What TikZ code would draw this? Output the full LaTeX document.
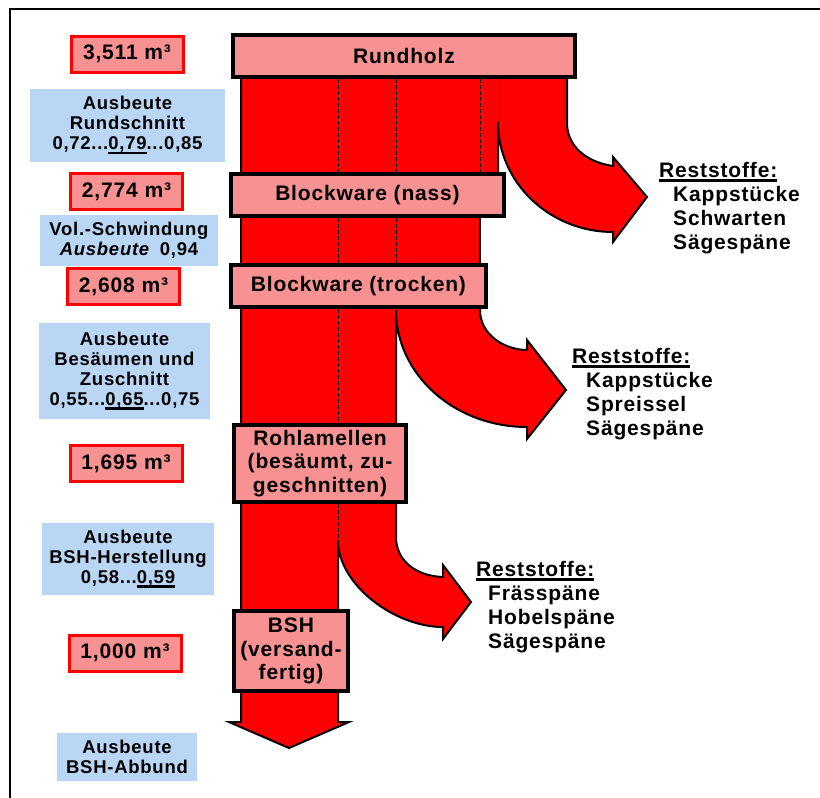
\documentclass[tikz,border=0pt]{standalone}
\usepackage{fontspec}
\setmainfont{Liberation Sans}[LetterSpace=4]
\usepackage{tikz}

\definecolor{rosa}{RGB}{248,146,146}
\definecolor{hellblau}{RGB}{186,214,245}

\newsavebox{\ustrbox}
\newcommand{\ustr}[1]{\sbox{\ustrbox}{#1}\rlap{\rule[-4.5pt]{\wd\ustrbox}{2.5pt}}\usebox{\ustrbox}}

\begin{document}
\begin{tikzpicture}[x=1pt, y=-1pt,
    stufe/.style={draw=black, line width=4pt, fill=rosa, inner sep=0pt, align=center, font=\fontsize{21}{23.5}\selectfont\bfseries},
    menge/.style={draw=red, line width=3pt, fill=rosa, inner sep=0pt, minimum width=112pt, minimum height=36pt, font=\fontsize{21}{24}\selectfont\bfseries},
    ausbeute/.style={fill=hellblau, inner sep=0pt, align=center, font=\fontsize{18.5}{20}\selectfont\bfseries},
    rest/.style={anchor=north west, inner sep=0pt, align=left, font=\fontsize{21}{24}\selectfont\bfseries},
    strom/.style={fill=red, draw=black, line width=2pt},
    trenn/.style={line width=1pt, dash pattern=on 4pt off 2pt}]
    \useasboundingbox (0,0) rectangle (820,798);
    \draw[line width=2pt] (820,9) -- (10,9) -- (10,798);

    % Rundholz -> Blockware (nass)
    \draw[strom] (241,77) -- (241,174) -- (498,174) -- (498,122)
        .. controls (498,183) and (550,232) .. (613,232) -- (613,242) -- (647,197)
        -- (613,157) -- (613,166) .. controls (585,162) and (567,145) .. (567,123)
        -- (567,77) -- cycle;
    \draw[trenn] (338,79) -- (338,172) (396,79) -- (396,172) (480,79) -- (480,172) (499,79) -- (499,122);

    % Blockware (nass) -> Blockware (trocken)
    \draw[strom] (241,216) rectangle (480,265);
    \draw[trenn] (338,218) -- (338,263) (396,218) -- (396,263);

    % Blockware (trocken) -> Rohlamellen
    \draw[strom] (241,307) -- (241,425) -- (396,425) -- (396,310)
        .. controls (396,375) and (455,427) .. (527,427) -- (527,439) -- (566,390)
        -- (527,340) -- (527,350) .. controls (505,350) and (480,335) .. (480,310)
        -- (480,307) -- cycle;
    \draw[trenn] (338,309) -- (338,423);

    % Rohlamellen -> BSH
    \draw[strom] (241,502) -- (241,611) -- (338,611) -- (338,540)
        .. controls (338,585) and (395,627) .. (443,627) -- (443,639) -- (471,602)
        -- (443,565) -- (443,577) .. controls (415,576) and (396,560) .. (396,537)
        -- (396,502) -- cycle;
    \draw[trenn] (338,504) -- (338,540);

    % BSH -> Abbund
    \draw[strom] (241,691) -- (241,722) -- (229,722) -- (289,748) -- (349,722) -- (338,722) -- (338,691) -- cycle;

    \node[stufe, minimum width=342pt, minimum height=42pt] (rund) at (404,56) {Rundholz};
    \node[stufe, minimum width=273pt, minimum height=42pt] (nass) at (367.5,195) {Blockware (nass)};
    \node[stufe, minimum width=255pt, minimum height=42pt] (trocken) at (358.5,286) {Blockware (trocken)};
    \node[stufe, minimum width=172pt, minimum height=77pt] (lamellen) at (320,463.5) {Rohlamellen\\(besäumt, zu-\\geschnitten)};
    \node[stufe, minimum width=114pt, minimum height=80pt] (bsh) at (291,651) {BSH\\(versand-\\fertig)};

    \node[menge] (vol1) at (127,54) {3,511 m³};
    \node[menge] (vol2) at (126.5,191.5) {2,774 m³};
    \node[menge] (vol3) at (123.5,286.5) {2,608 m³};
    \node[menge] (vol4) at (126,463.5) {1,695 m³};
    \node[menge] (vol5) at (125,653) {1,000 m³};

    \node[ausbeute, minimum width=195pt, minimum height=73pt] (aus1) at (127.5,125.5) {Ausbeute\\Rundschnitt\\0,72...\ustr{0,79}...0,85};
    \node[ausbeute, minimum width=178pt, minimum height=51pt] (aus2) at (129,240.5) {Vol.-Schwindung\\\textit{Ausbeute}\hspace{10pt}0,94};
    \node[ausbeute, minimum width=171pt, minimum height=96pt] (aus3) at (124.5,371) {Ausbeute\\Besäumen und\\Zuschnitt\\0,55...\ustr{0,65}...0,75};
    \node[ausbeute, minimum width=172pt, minimum height=72pt] (aus4) at (128,559) {Ausbeute\\BSH-Herstellung\\0,58...\ustr{0,59}};
    \node[ausbeute, minimum width=140pt, minimum height=48pt] (aus5) at (127,757) {Ausbeute\\BSH-Abbund};

    \node[rest] (rest1) at (659,162) {\ustr{Reststoffe:}\\\hspace*{14pt}Kappstücke\\\hspace*{14pt}Schwarten\\\hspace*{14pt}Sägespäne};
    \node[rest] (rest2) at (572,348) {\ustr{Reststoffe:}\\\hspace*{14pt}Kappstücke\\\hspace*{14pt}Spreissel\\\hspace*{14pt}Sägespäne};
    \node[rest] (rest3) at (476,561) {\ustr{Reststoffe:}\\\hspace*{12pt}Frässpäne\\\hspace*{12pt}Hobelspäne\\\hspace*{12pt}Sägespäne};
\end{tikzpicture}
\end{document}
